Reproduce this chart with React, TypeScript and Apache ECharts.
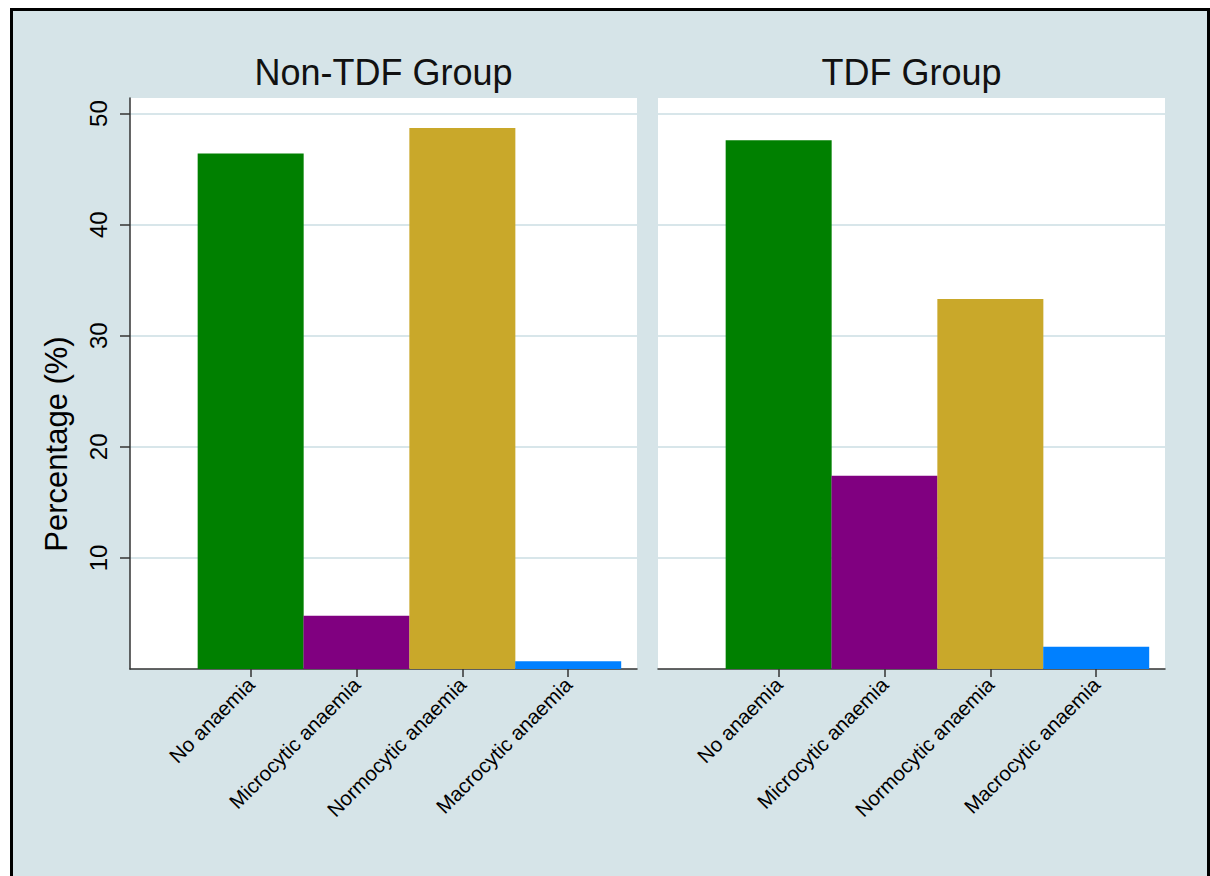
import React, { useEffect, useRef } from "react";
import * as echarts from "echarts";

const categories = ["No anaemia", "Microcytic anaemia", "Normocytic anaemia", "Macrocytic anaemia"];
const categoryPositions = [1, 2, 3, 4];
const nonTdfValues = [46.4, 4.8, 48.7, 0.7];
const tdfValues = [47.6, 17.4, 33.3, 2.0];
const barColors = ["#008000", "#800080", "#c9a82a", "#0080ff"];
const panelTitles = ["Non-TDF Group", "TDF Group"];
const yTicks = [10, 20, 30, 40, 50];
const yAxisTitle = "Percentage (%)";

const FONT = "'Liberation Sans', Arial, Helvetica, sans-serif";
const BG = "#d6e4e8";
const GRID_LEFTS = [130, 658];
const GRID_TOP = 98;
const GRID_W = 507;
const GRID_H = 571;

export default function App() {
  const ref = useRef<HTMLDivElement>(null);

  useEffect(() => {
    if (!ref.current) return;
    const chart = echarts.init(ref.current, undefined, { renderer: "svg" });
    const panels = [nonTdfValues, tdfValues];

    const grids = GRID_LEFTS.map((left) => ({
      left,
      top: GRID_TOP,
      width: GRID_W,
      height: GRID_H,
      show: true,
      backgroundColor: "#ffffff",
      borderWidth: 0,
      containLabel: false,
    }));

    const xAxes = panels.map((_, i) => ({
      type: "value",
      gridIndex: i,
      min: -0.14,
      max: 4.65,
      position: "bottom",
      splitLine: { show: false },
      axisLine: { show: true, onZero: false, lineStyle: { color: "#333333", width: 1.5 } },
      axisTick: {
        show: true,
        customValues: categoryPositions,
        length: 8,
        lineStyle: { color: "#333333", width: 1.5 },
      },
      axisLabel: {
        show: true,
        customValues: categoryPositions,
        rotate: 45,
        margin: 12,
        fontSize: 20.5,
        fontFamily: FONT,
        color: "#000000",
        formatter: (v: number) => categories[categoryPositions.indexOf(v)] ?? "",
      },
    }));

    const yAxes = panels.map((_, i) => ({
      type: "value",
      gridIndex: i,
      min: 0,
      max: 51.4,
      interval: 10,
      axisLine: { show: i === 0, onZero: false, lineStyle: { color: "#333333", width: 1.5 } },
      axisTick: {
        show: i === 0,
        customValues: yTicks,
        length: 10,
        lineStyle: { color: "#333333", width: 1.5 },
      },
      axisLabel: {
        show: i === 0,
        customValues: yTicks,
        rotate: 90,
        margin: 20,
        fontSize: 24,
        fontFamily: FONT,
        color: "#000000",
      },
      splitLine: { show: true, lineStyle: { color: "#d8e6ea", width: 2 } },
    }));

    const series = panels.map((vals, i) => ({
      type: "bar",
      xAxisIndex: i,
      yAxisIndex: i,
      barWidth: 106,
      data: vals.map((v, k) => ({
        value: [categoryPositions[k], v],
        itemStyle: { color: barColors[k] },
      })),
    }));

    chart.setOption({
      animation: false,
      backgroundColor: "#ffffff",
      grid: grids,
      xAxis: xAxes,
      yAxis: yAxes,
      series,
      graphic: [
        {
          type: "rect",
          z: -10,
          silent: true,
          shape: { x: 11.5, y: 9.5, width: 1197, height: 880 },
          style: { fill: BG, stroke: "#000000", lineWidth: 3 },
        },
        ...panelTitles.map((t, i) => ({
          type: "text",
          x: GRID_LEFTS[i] + GRID_W / 2,
          y: 72,
          style: {
            text: t,
            fontSize: 36,
            fontFamily: FONT,
            fill: "#111111",
            textAlign: "center",
            textVerticalAlign: "middle",
          },
        })),
        {
          type: "text",
          x: 56,
          y: 444,
          rotation: Math.PI / 2,
          style: {
            text: yAxisTitle,
            fontSize: 31,
            fontFamily: FONT,
            fill: "#000000",
            textAlign: "center",
            textVerticalAlign: "middle",
          },
        },
      ],
    });

    return () => chart.dispose();
  }, []);

  return (
    <div
      ref={ref}
      style={{ position: "absolute", left: 0, top: 0, width: 1210, height: 876 }}
    />
  );
}
